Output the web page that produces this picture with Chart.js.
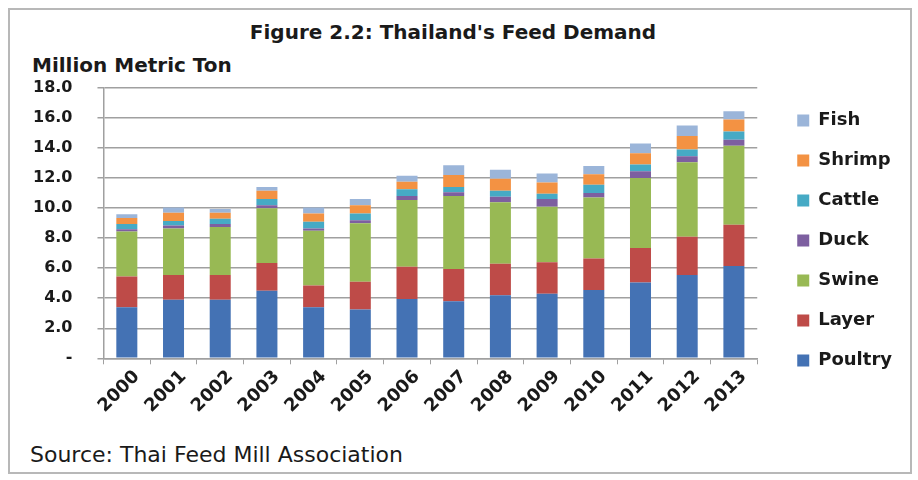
<!DOCTYPE html>
<html>
<head>
<meta charset="utf-8">
<script src="https://cdn.jsdelivr.net/npm/chart.js@4.4.1/dist/chart.umd.min.js"></script>
<style>
  html, body { margin: 0; padding: 0; background: #fff; }
  #wrap { position: relative; width: 918px; height: 480px; font-family: "DejaVu Sans", sans-serif; color: #1a1a1a; }
  #frame { position: absolute; left: 8px; top: 8px; width: 900px; height: 462px; border: 2px solid #b8b8b8; }
  #titulo { position: absolute; left: 0; width: 906px; top: 20px; text-align: center; font-weight: bold; font-size: 20px; }
  #unidad { position: absolute; left: 32px; top: 53px; font-weight: bold; font-size: 20px; }
  #fuente { position: absolute; left: 30px; top: 442px; font-size: 22px; }
  canvas { position: absolute; left: 0; top: 0; }
</style>
</head>
<body>
<div id="wrap">
  <div id="frame"></div>
  <div id="titulo">Figure 2.2: Thailand's Feed Demand</div>
  <div id="unidad">Million Metric Ton</div>
  <div id="fuente">Source: Thai Feed Mill Association</div>
  <canvas id="grafica" width="918" height="480"></canvas>
</div>
<script>
// --- Datos (millones de toneladas) ---
const years   = ['2000','2001','2002','2003','2004','2005','2006','2007','2008','2009','2010','2011','2012','2013'];
const poultry = [3.40, 3.90, 3.90, 4.50, 3.40, 3.25, 3.95, 3.80, 4.20, 4.30, 4.55, 5.05, 5.55, 6.15];
const layer   = [2.05, 1.65, 1.65, 1.85, 1.45, 1.85, 2.15, 2.15, 2.10, 2.10, 2.10, 2.30, 2.55, 2.75];
const swine   = [3.00, 3.10, 3.20, 3.65, 3.65, 3.90, 4.45, 4.85, 4.10, 3.70, 4.05, 4.65, 4.95, 5.25];
const duck    = [0.15, 0.20, 0.20, 0.20, 0.15, 0.20, 0.25, 0.25, 0.35, 0.50, 0.30, 0.45, 0.40, 0.40];
const cattle  = [0.35, 0.30, 0.35, 0.40, 0.45, 0.45, 0.45, 0.35, 0.40, 0.35, 0.55, 0.45, 0.45, 0.55];
const shrimp  = [0.40, 0.55, 0.40, 0.55, 0.55, 0.55, 0.50, 0.80, 0.80, 0.75, 0.70, 0.75, 0.90, 0.80];
const fish    = [0.25, 0.35, 0.25, 0.25, 0.40, 0.40, 0.40, 0.65, 0.60, 0.60, 0.55, 0.65, 0.70, 0.55];
const yTicks  = [0, 2, 4, 6, 8, 10, 12, 14, 16, 18];

const familia = '"DejaVu Sans", sans-serif';

function serie(nombre, datos, color) {
    return { label: nombre, data: datos, backgroundColor: color, borderWidth: 0,
             barPercentage: 0.45, categoryPercentage: 1 };
}

// Separar la leyenda del área del gráfico (más hueco a su izquierda)
const margenLeyenda = {
    id: 'margenLeyenda',
    beforeInit(chart) {
        const leyenda = chart.legend;
        const fitOriginal = leyenda.fit;
        leyenda.fit = function () { fitOriginal.call(this); this.width += 16; };
    },
    afterLayout(chart) {
        const l = chart.legend;
        l.left += 18; l.right += 18;
        l.top -= 13; l.bottom -= 13;
    }
};

new Chart(document.getElementById('grafica'), {
    type: 'bar',
    data: {
        labels: years,
        datasets: [
            serie('Poultry', poultry, '#4472b4'),
            serie('Layer',   layer,   '#be4b48'),
            serie('Swine',   swine,   '#98b954'),
            serie('Duck',    duck,    '#7d5fa0'),
            serie('Cattle',  cattle,  '#46aac5'),
            serie('Shrimp',  shrimp,  '#f39243'),
            serie('Fish',    fish,    '#9bb5d9')
        ]
    },
    plugins: [margenLeyenda],
    options: {
        responsive: false,
        animation: false,
        layout: { padding: { left: 8, right: 18, top: 88, bottom: 61 } },
        plugins: {
            tooltip: { enabled: false },
            legend: {
                position: 'right',
                reverse: true,
                labels: { boxWidth: 12, boxHeight: 12, padding: 22, color: '#1a1a1a',
                          font: { family: familia, weight: 'bold', size: 18 } }
            }
        },
        scales: {
            x: {
                stacked: true,
                grid: { drawOnChartArea: false, color: '#a0a0a0', tickLength: 6, offset: true },
                border: { color: '#a0a0a0', width: 1.5 },
                ticks: { color: '#1a1a1a', font: { family: familia, weight: 'bold', size: 18 },
                         minRotation: 45, maxRotation: 45, padding: 2, labelOffset: 10 }
            },
            y: {
                stacked: true,
                min: 0, max: 18,
                afterBuildTicks: axis => { axis.ticks = yTicks.map(v => ({ value: v })); },
                grid: { color: '#a0a0a0', lineWidth: 1.5, tickLength: 6 },
                border: { color: '#a0a0a0', width: 1.5 },
                ticks: { color: '#1a1a1a', font: { family: familia, weight: 'bold', size: 16 }, padding: 25,
                         callback: v => v === 0 ? '-' : v.toFixed(1) }
            }
        }
    }
});
</script>
</body>
</html>
